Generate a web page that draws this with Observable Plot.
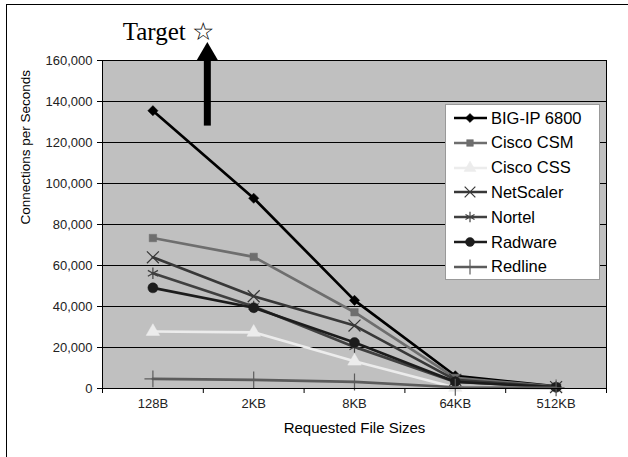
<!DOCTYPE html>
<html>
<head>
<meta charset="utf-8">
<script src="https://cdn.jsdelivr.net/npm/d3@7"></script>
<script src="https://cdn.jsdelivr.net/npm/@observablehq/plot@0.6"></script>
<style>
  html, body { margin: 0; padding: 0; background: #fff; overflow: hidden; width: 628px; height: 457px; }
  #wrap { position: relative; width: 628px; height: 457px; }
  #outer { position: absolute; left: 6px; top: 4px; width: 700px; height: 600px; border: 1px solid #000; box-sizing: border-box; }
  #chart { position: absolute; left: 0; top: 0; }
  #legend { position: absolute; left: 445px; top: 104px; width: 155px; height: 176px; background: #fff; border: 1px solid #999; box-sizing: border-box; font-family: "Liberation Sans", Arial, sans-serif; font-size: 16.5px; color: #000; }
  .row { position: absolute; left: 5px; height: 24px; display: flex; align-items: center; }
  .row svg { margin-right: 2px; }
</style>
</head>
<body>
<div id="wrap">
  <div id="outer"></div>
  <div id="chart"></div>
  <div id="legend"></div>
</div>
<script>
const categories = ["128B", "2KB", "8KB", "64KB", "512KB"];
const seriesNames = ["BIG-IP 6800", "Cisco CSM", "Cisco CSS", "NetScaler", "Nortel", "Radware", "Redline"];
const bigip     = [135500, 92800, 43000, 6200, 1000];
const ciscoCSM  = [73400, 64200, 37200, 5200, 900];
const ciscoCSS  = [27800, 27400, 13300, 500, 300];
const netscaler = [64000, 45000, 30700, 4200, 700];
const nortel    = [56200, 40000, 20300, 3200, 800];
const radware   = [49100, 39400, 22400, 3300, 600];
const redline   = [4700, 4200, 3200, 600, 300];
const yTicks = [0, 20000, 40000, 60000, 80000, 100000, 120000, 140000, 160000];
const xTitle = "Requested File Sizes";
const yTitle = "Connections per Seconds";
const annotation = "Target ☆";
const targetArrow = [{x: 1.04, y1: 128000, y2: 160000, head: 163000}];

const values = [bigip, ciscoCSM, ciscoCSS, netscaler, nortel, radware, redline];

// styles (separate from data)
const styles = [
  {color: "#000000", symbol: "diamond2", fill: true,  r: 4.6, sw: 2.7, d3sym: d3.symbolDiamond2},
  {color: "#6e6e6e", symbol: "square",   fill: true,  r: 4.2, sw: 2.7, d3sym: d3.symbolSquare},
  {color: "#ececec", symbol: "triangle", fill: true,  r: 5.0, sw: 2.7, d3sym: d3.symbolTriangle},
  {color: "#383838", symbol: "times",    fill: false, r: 5.5, sw: 2.7, d3sym: d3.symbolTimes},
  {color: "#404040", symbol: "asterisk", fill: false, r: 5.5, sw: 2.7, d3sym: d3.symbolAsterisk},
  {color: "#1c1c1c", symbol: "circle",   fill: true,  r: 5.0, sw: 2.7, d3sym: d3.symbolCircle},
  {color: "#5c5c5c", symbol: "plus",     fill: false, r: 5.5, sw: 2.7, d3sym: d3.symbolPlus}
];

const table = [];
seriesNames.forEach((name, s) => {
  values[s].forEach((v, i) => table.push({series: name, s, xi: i + 0.5, cat: categories[i], value: v}));
});

const seriesMarks = [];
seriesNames.forEach((name, s) => {
  const st = styles[s];
  const rows = table.filter(d => d.s === s);
  seriesMarks.push(Plot.line(rows, {x: "xi", y: "value", stroke: st.color, strokeWidth: st.sw}));
  seriesMarks.push(Plot.dot(rows, st.fill
    ? {x: "xi", y: "value", symbol: () => st.symbol, r: st.r, fill: st.color, stroke: st.color, strokeWidth: 0.5}
    : {x: "xi", y: "value", symbol: () => st.symbol, r: st.r, stroke: st.color, strokeWidth: 1.2, fill: "none"}));
});

const chart = Plot.plot({
  width: 628,
  height: 457,
  marginLeft: 102,
  marginRight: 22,
  marginTop: 60,
  marginBottom: 69,
  style: {background: "transparent", fontFamily: "'Liberation Sans', Arial, sans-serif", color: "#000", overflow: "visible"},
  x: {type: "linear", domain: [0, 5]},
  y: {domain: [0, 160000]},
  marks: [
    Plot.frame({fill: "#c0c0c0", stroke: "none"}),
    Plot.gridY(yTicks, {stroke: "#000", strokeOpacity: 1, strokeWidth: 1}),
    Plot.axisY(yTicks, {tickFormat: d3.format(","), tickSize: 5, tickPadding: 5, fontSize: 13, fill: "#222", label: null}),
    Plot.axisX([0, 1, 2, 3, 4, 5], {tickFormat: () => "", tickSize: 5, label: null}),
    Plot.axisX(categories.map((_, i) => i + 0.5), {tickSize: 0, tickPadding: 10, tickFormat: d => categories[Math.floor(d)], fontSize: 13, fill: "#222", label: null}),
    Plot.text([xTitle], {frameAnchor: "bottom", dy: 44, fontSize: 15, fill: "#000"}),
    Plot.text([yTitle], {frameAnchor: "left", dx: -77, rotate: -90, fontSize: 13.5, fill: "#000"}),
    ...seriesMarks,
    Plot.frame({stroke: "#000", strokeWidth: 1}),
    Plot.ruleX(targetArrow, {x: "x", y1: "y1", y2: "y2", stroke: "#000", strokeWidth: 7}),
    Plot.dot(targetArrow, {x: "x", y: "head", symbol: "triangle", r: 8, fill: "#000"}),
    Plot.text([annotation], {x: 0.2, y: 174000, textAnchor: "start", fontSize: 25, fontFamily: "'Liberation Serif', 'Times New Roman', serif", fill: "#000"})
  ]
});
document.getElementById("chart").appendChild(chart);

// legend
const legend = d3.select("#legend");
seriesNames.forEach((name, s) => {
  const st = styles[s];
  const row = legend.append("div").attr("class", "row").style("top", (1 + s * 24.8) + "px");
  const svg = row.append("svg").attr("width", 38).attr("height", 20);
  svg.append("line").attr("x1", 3).attr("x2", 36).attr("y1", 10).attr("y2", 10)
    .attr("stroke", st.color).attr("stroke-width", st.sw);
  svg.append("path").attr("transform", "translate(19,10)")
    .attr("d", d3.symbol(st.d3sym, Math.PI * st.r * st.r * 0.8)())
    .attr("fill", st.fill ? st.color : "none")
    .attr("stroke", st.color).attr("stroke-width", st.fill ? 0.5 : 1.2);
  row.append("span").text(name);
});
</script>
</body>
</html>
